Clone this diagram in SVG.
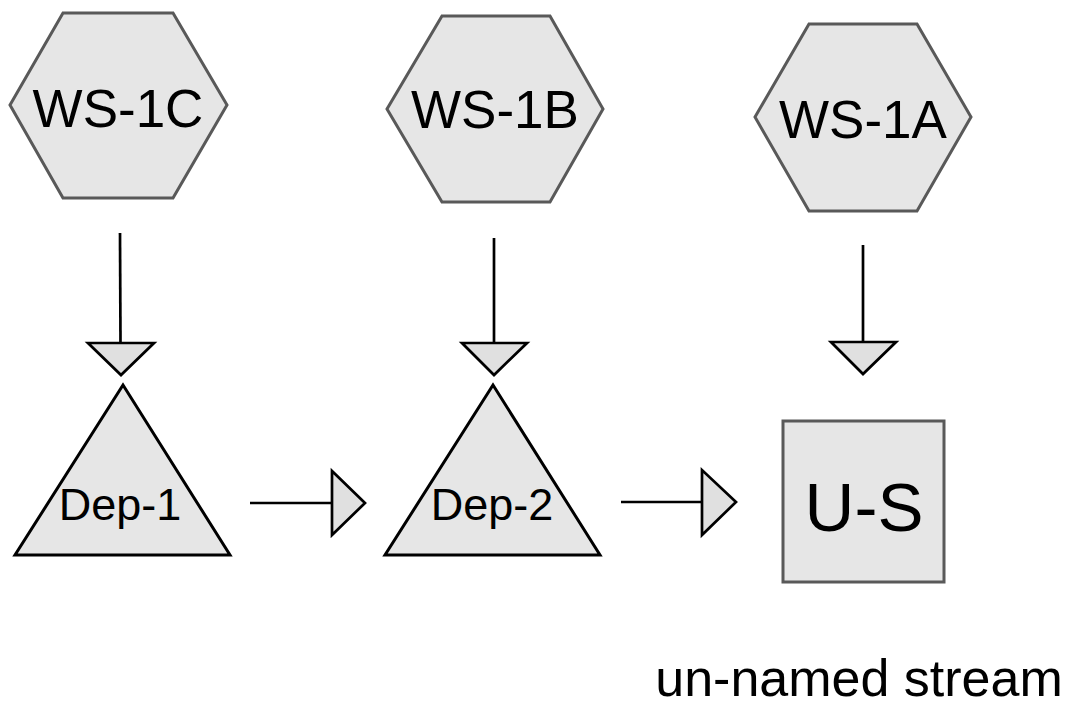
<svg xmlns="http://www.w3.org/2000/svg" width="1078" height="708" viewBox="0 0 1078 708">
<style>
.hex{fill:#e6e6e6;stroke:#595959;stroke-width:3;stroke-linejoin:miter}
.tri{fill:#e6e6e6;stroke:#000;stroke-width:3;stroke-linejoin:miter}
.box{fill:#e6e6e6;stroke:#595959;stroke-width:3}
.line{stroke:#000;stroke-width:2.7;fill:none}
.head{fill:#e0e0e0;stroke:#000;stroke-width:2.7;stroke-linejoin:miter}
text{font-family:"Liberation Sans",Arial,sans-serif;fill:#000;text-anchor:middle}
.ws{font-size:53px}
.dep{font-size:45px}
</style>
<rect width="1078" height="708" fill="#fff"/>
<g id="ws-1c">
<polygon class="hex" points="63,13 173,13 227,105 173,198 63,198 10,105"/>
<text class="ws" x="118" y="127">WS-1C</text>
</g>
<g id="ws-1b">
<polygon class="hex" points="442,16 550,16 603,109 550,202 442,202 387,109"/>
<text class="ws" x="495" y="128">WS-1B</text>
</g>
<g id="ws-1a">
<polygon class="hex" points="809,24 917,24 971,117 917,211 809,211 755,117"/>
<text class="ws" x="863" y="138">WS-1A</text>
</g>
<g id="dep-1">
<polygon class="tri" points="123,385 230,555 15,555"/>
<text class="dep" x="120" y="520">Dep-1</text>
</g>
<g id="dep-2">
<polygon class="tri" points="493,385 600,555 385,555"/>
<text class="dep" x="492" y="520">Dep-2</text>
</g>
<g id="u-s">
<rect class="box" x="783" y="421" width="161" height="161"/>
<text x="864" y="531" font-size="69">U-S</text>
</g>
<g id="label">
<text x="859" y="696" font-size="52">un-named stream</text>
</g>
<g id="connectors">
<line class="line" x1="120" y1="233" x2="120.5" y2="343"/>
<polygon class="head" points="88,343 154,343 121,375"/>
<line class="line" x1="494" y1="238" x2="494" y2="343"/>
<polygon class="head" points="462,343 527,343 494,375"/>
<line class="line" x1="863" y1="245" x2="863" y2="342"/>
<polygon class="head" points="831,342 896,342 863,374"/>
<line class="line" x1="250" y1="503" x2="332" y2="503"/>
<polygon class="head" points="332,471 332,535 365,503"/>
<line class="line" x1="621" y1="502" x2="702" y2="502"/>
<polygon class="head" points="702,470 702,535 736,502"/>
</g>
</svg>
